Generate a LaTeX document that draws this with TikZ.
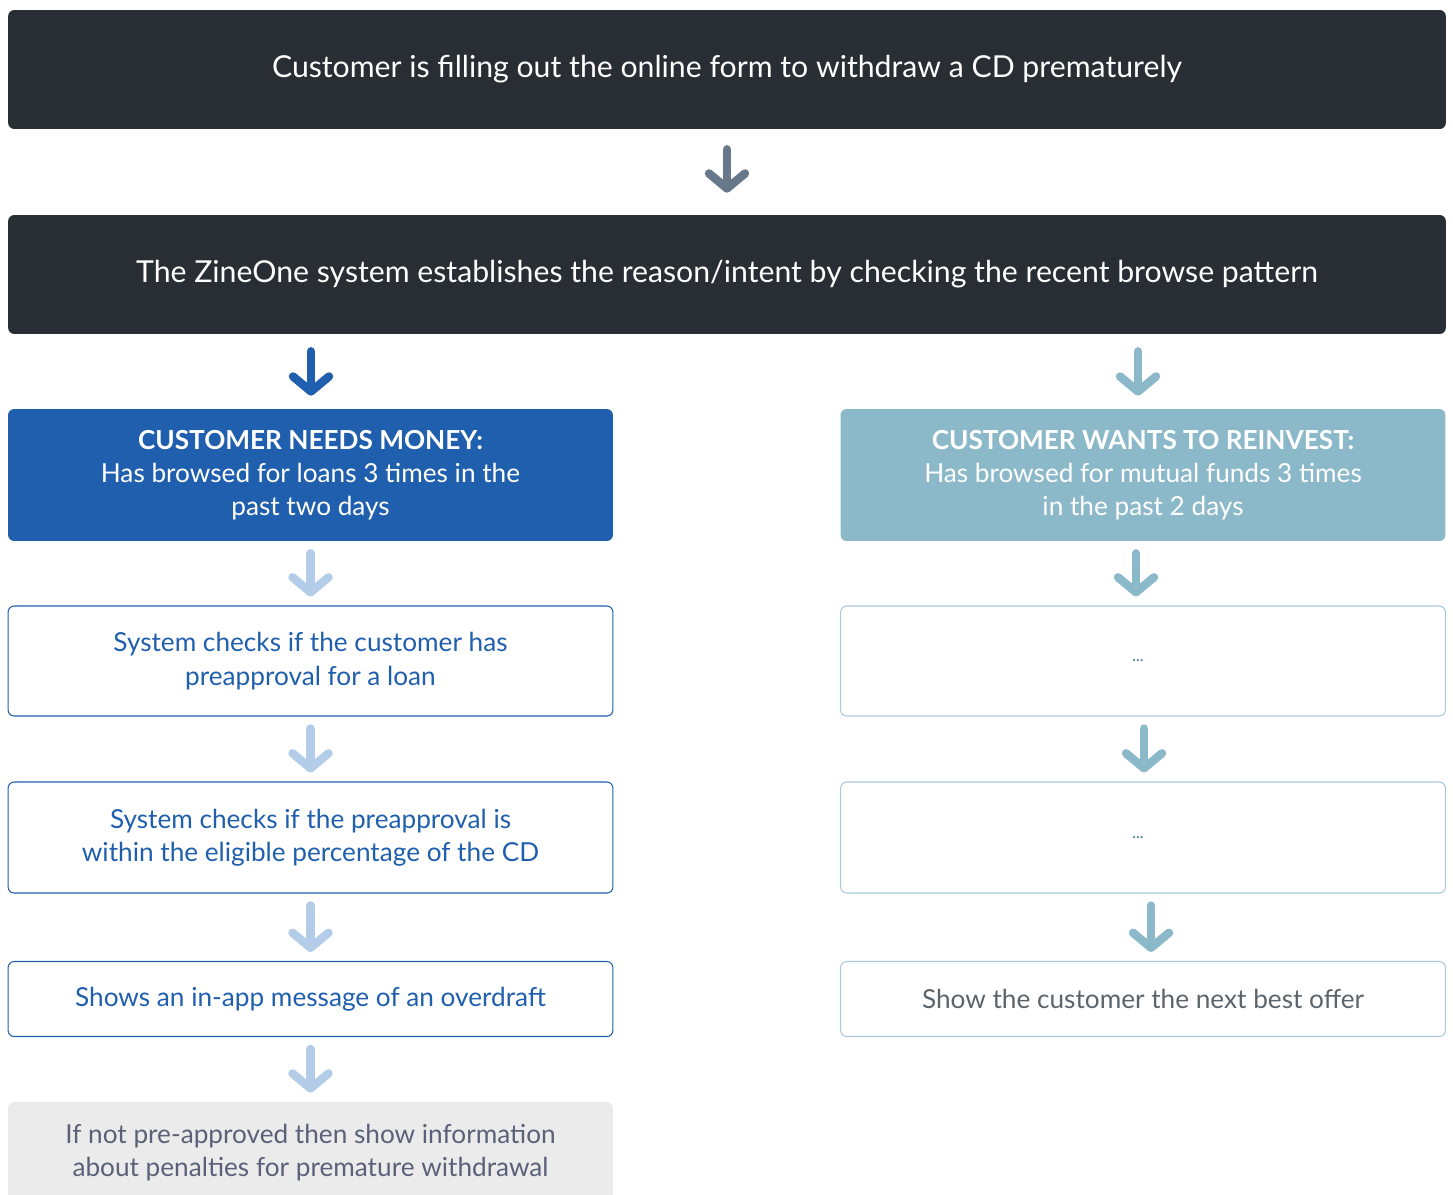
\documentclass[tikz,border=0pt]{standalone}
\usepackage{fontspec}
\setmainfont{Lato}
\usepackage{tikz}
\usetikzlibrary{arrows.meta}

\definecolor{darkbox}{HTML}{282E33}
\definecolor{slatearrow}{HTML}{66788A}
\definecolor{moneyblue}{HTML}{1F5FAD}
\definecolor{paleblue}{HTML}{B3CDE8}
\definecolor{reinvestteal}{HTML}{8CB9CA}
\definecolor{tealline}{HTML}{A9CBD9}
\definecolor{greyfill}{HTML}{EBEBEB}
\definecolor{greytext}{HTML}{5A6178}
\definecolor{offertext}{HTML}{5B646B}
\definecolor{dotsteal}{HTML}{3D6E7F}

\tikzset{
  flowbox/.style={rounded corners=3.5pt, align=center, inner sep=0pt,
    font=\fontsize{14.9}{18.9}\selectfont},
  widebox/.style={flowbox, minimum width=28.76cm, minimum height=2.38cm,
    fill=darkbox, text=white, font=\fontsize{17.2}{21}\selectfont},
  halfbox/.style={flowbox, minimum width=12.1cm},
  downarrow/.style={line width=4.8pt, line cap=round,
    -{Straight Barb[round, length=0.3cm, width=0.72cm]},
    shorten <=0.24cm, shorten >=0.18cm}
}

\begin{document}
\begin{tikzpicture}[x=0.02cm,y=-0.02cm]
\useasboundingbox (0,0) rectangle (1453,1194);
\clip (0,0) rectangle (1453,1194);

% top row
\node[widebox] (form) at (727,69.5)
  {Customer is filling out the online form to withdraw a CD prematurely};
\node[widebox] (intent) at (727,274.5)
  {The ZineOne system establishes the reason/intent by checking the recent browse pattern};

% left branch
\node[halfbox, fill=moneyblue, text=white, minimum height=2.64cm] (money) at (310.5,475)
  {\textbf{CUSTOMER NEEDS MONEY:}\\Has browsed for loans 3 times in the\\past two days};
\node[halfbox, draw=moneyblue, line width=0.6pt, text=moneyblue, minimum height=2.2cm] (precheck) at (310.5,661)
  {System checks if the customer has\\preapproval for a loan};
\node[halfbox, draw=moneyblue, line width=0.6pt, text=moneyblue, minimum height=2.22cm] (eligible) at (310.5,837.5)
  {System checks if the preapproval is\\within the eligible percentage of the CD};
\node[halfbox, draw=moneyblue, line width=0.6pt, text=moneyblue, minimum height=1.5cm] (overdraft) at (310.5,999)
  {Shows an in-app message of an overdraft};
\node[halfbox, fill=greyfill, text=greytext, minimum height=2.02cm] (penalty) at (310.5,1152.5)
  {If not pre-approved then show information\\about penalties for premature withdrawal};

% right branch
\node[halfbox, fill=reinvestteal, text=white, minimum height=2.64cm] (reinvest) at (1143,475)
  {\textbf{CUSTOMER WANTS TO REINVEST:}\\Has browsed for mutual funds 3 times\\in the past 2 days};
\node[halfbox, draw=tealline, line width=0.6pt, text=dotsteal, minimum height=2.2cm,
  font=\fontsize{9}{10}\selectfont] (stepone) at (1143,661) {\hspace*{-0.2cm}...};
\node[halfbox, draw=tealline, line width=0.6pt, text=dotsteal, minimum height=2.22cm,
  font=\fontsize{9}{10}\selectfont] (steptwo) at (1143,837.5) {\hspace*{-0.2cm}...};
\node[halfbox, draw=tealline, line width=0.6pt, text=offertext, minimum height=1.5cm] (offer) at (1143,999)
  {Show the customer the next best offer};

% arrows
\draw[downarrow, slatearrow, shorten <=0.4cm, shorten >=0.44cm] (form) -- (intent);
\draw[downarrow, moneyblue, shorten <=0.34cm, shorten >=0.26cm]
  ([xshift=0.01cm]money.north |- intent.south) -- ([xshift=0.01cm]money.north);
\draw[downarrow, reinvestteal, shorten <=0.34cm, shorten >=0.26cm]
  ([xshift=-0.1cm]reinvest.north |- intent.south) -- ([xshift=-0.1cm]reinvest.north);
\draw[downarrow, paleblue] (money) -- (precheck);
\draw[downarrow, paleblue] (precheck) -- (eligible);
\draw[downarrow, paleblue] (eligible) -- (overdraft);
\draw[downarrow, paleblue] (overdraft) -- (penalty);
\draw[downarrow, reinvestteal] ([xshift=-0.14cm]reinvest.south) -- ([xshift=-0.14cm]stepone.north);
\draw[downarrow, reinvestteal] ([xshift=0.02cm]stepone.south) -- ([xshift=0.02cm]steptwo.north);
\draw[downarrow, reinvestteal] ([xshift=0.16cm]steptwo.south) -- ([xshift=0.16cm]offer.north);
\end{tikzpicture}
\end{document}
